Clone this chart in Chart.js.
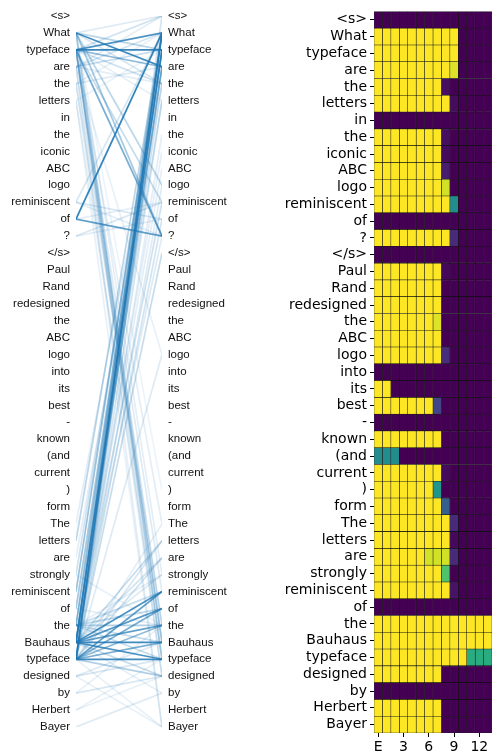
<!DOCTYPE html>
<html>
<head>
<meta charset="utf-8">
<script src="https://cdn.jsdelivr.net/npm/chart.js@4.4.1/dist/chart.umd.min.js"></script>
<style>
  body { margin:0; background:#fff; width:492px; height:753px; overflow:hidden; position:relative; }
  canvas { position:absolute; top:0; }
  #links { left:0; }
  #heat { left:240px; }
</style>
</head>
<body>
<canvas id="links" width="240" height="753"></canvas>
<canvas id="heat" width="252" height="753"></canvas>
<script>
// tokens shown on both sides of the attention plot and on the heatmap rows
const tokens = ['<s>','What','typeface','are','the','letters','in','the','iconic','ABC','logo','reminiscent','of','?','</s>',
  'Paul','Rand','redesigned','the','ABC','logo','into','its','best','-','known','(and','current',')','form',
  'The','letters','are','strongly','reminiscent','of','the','Bauhaus','typeface','designed','by','Herbert','Bayer'];

// layer columns of the heatmap (E = embeddings)
const layers = ['E','1','2','3','4','5','6','7','8','9','10','11','12','13'];
const layerTicks = ['E','3','6','9','12'];

// heat values per token row, one value per layer column
const heat = [
  [0,0,0,0,0,0,0,0,0,0,0,0,0,0],
  [1,1,1,1,1,1,1,1,1,1,0,0,0,0],
  [1,1,1,1,1,1,1,1,1,1,0,0,0,0],
  [1,1,1,1,1,1,1,1,1,0.95,0,0,0,0],
  [1,1,1,1,1,1,1,1,0.04,0,0,0,0,0],
  [1,1,1,1,1,1,1,1,1,0.03,0,0,0,0],
  [0,0,0,0,0,0,0,0,0,0,0,0,0,0],
  [1,1,1,1,1,1,1,1,0.04,0,0,0,0,0],
  [1,1,1,1,1,1,1,1,0.03,0,0,0,0,0],
  [1,1,1,1,1,1,1,1,0.08,0,0,0,0,0],
  [1,1,1,1,1,1,1,1,0.93,0,0,0,0,0],
  [1,1,1,1,1,1,1,1,1,0.48,0,0,0,0],
  [0,0,0,0,0,0,0,0,0,0,0,0,0,0],
  [1,1,1,1,1,1,1,1,1,0.12,0,0,0,0],
  [0,0,0,0,0,0,0,0,0,0,0,0,0,0],
  [1,1,1,1,1,1,1,1,0.02,0,0,0,0,0],
  [1,1,1,1,1,1,1,1,0,0,0,0,0,0],
  [1,1,1,1,1,1,1,1,0,0,0,0,0,0],
  [1,1,1,1,1,1,1,0.95,0,0,0,0,0,0],
  [1,1,1,1,1,1,1,1,0,0,0,0,0,0],
  [1,1,1,1,1,1,1,1,0.13,0,0,0,0,0],
  [0,0,0,0,0,0,0,0,0,0,0,0,0,0],
  [1,1,0,0,0,0,0,0,0,0,0,0,0,0],
  [1,1,1,1,1,1,1,0.2,0,0,0,0,0,0],
  [0,0,0,0,0,0,0,0,0,0,0,0,0,0],
  [1,1,1,1,1,1,1,1,0,0,0,0,0,0],
  [0.48,0.48,0.48,0,0,0,0,0,0,0,0,0,0,0],
  [1,1,1,1,1,1,1,1,0.03,0,0,0,0,0],
  [1,1,1,1,1,1,1,0.52,0,0,0,0,0,0],
  [1,1,1,1,1,1,1,1,0.3,0,0,0,0,0],
  [1,1,1,1,1,1,1,1,1,0.12,0,0,0,0],
  [1,1,1,1,1,1,1,1,1,0.02,0,0,0,0],
  [1,1,1,1,1,1,0.93,0.93,0.93,0.12,0,0,0,0],
  [1,1,1,1,1,1,1,1,0.72,0,0,0,0,0],
  [1,1,1,1,1,1,1,1,1,0.05,0,0,0,0],
  [0,0,0,0,0,0,0,0,0,0,0,0,0,0],
  [1,1,1,1,1,1,1,1,1,1,1,1,1,1],
  [1,1,1,1,1,1,1,1,1,1,1,1,1,1],
  [1,1,1,1,1,1,1,1,1,1,1,0.62,0.62,0.62],
  [1,1,1,1,1,1,1,1,0,0,0,0,0,0],
  [0,0,0,0,0,0,0,0,0,0,0,0,0,0],
  [1,1,1,1,1,1,1,1,0,0,0,0,0,0],
  [1,1,1,1,1,1,1,1,0,0,0,0,0,0]
];

// attention links: left token index -> right token index, with weight
const linkFrom = [1,2,3, 1,1,1,1,1, 2,2,2,2,2,2,2, 3,3,3,4,4,5, 11,11,11, 12,12,12, 13,13,
  1,1,1,2,2,2,2,2,3,4,5,2,1,3,4,5,3,
  38,37,37,38,38,37,36,36,37,38,37,34,35,31,33,38,37,38,37,38,37,38,36,35,30,32,38,37,36,
  37,37,37,37,37,38,38,38,38,38,38,36,36,36,37,38,38,37,36,37,38,37,38,37,36,36,
  39,39,40,40,41,42,39,41,35,33];
const linkTo = [0,0,0, 3,2,10,13,4, 2,1,3,4,13,11,5, 1,2,4,3,1,2, 1,12,13, 1,13,11, 11,12,
  33,37,38,36,37,38,34,39,42,39,42,30,28,37,36,38,20,
  1,2,1,2,3,3,1,2,4,5,0,1,2,1,2,14,13,12,11,10,8,7,5,3,3,4,20,9,0,
  34,35,36,37,38,34,35,36,37,38,39,36,34,35,31,32,31,32,33,33,30,39,42,40,38,37,
  37,38,39,36,38,40,42,39,36,36];
const linkWeight = [0.15,0.2,0.12, 0.85,0.3,0.3,0.4,0.18, 0.9,0.8,0.5,0.22,0.6,0.25,0.12, 0.2,0.25,0.12,0.15,0.1,0.1, 0.18,0.18,0.12, 0.9,0.7,0.12, 0.18,0.12,
  0.12,0.15,0.2,0.22,0.25,0.22,0.15,0.15,0.12,0.12,0.1,0.12,0.08,0.15,0.12,0.1,0.1,
  0.85,0.8,0.5,0.4,0.4,0.35,0.3,0.22,0.22,0.2,0.12,0.45,0.3,0.3,0.22,0.25,0.15,0.2,0.22,0.15,0.12,0.12,0.15,0.15,0.12,0.12,0.15,0.12,0.08,
  0.8,0.75,0.7,0.85,0.8,0.7,0.6,0.5,0.6,0.85,0.35,0.35,0.25,0.3,0.25,0.22,0.18,0.2,0.12,0.15,0.12,0.25,0.1,0.12,0.25,0.25,
  0.15,0.18,0.18,0.1,0.1,0.15,0.1,0.1,0.12,0.1];

const viridisStops = ['#440154','#482475','#414487','#355f8d','#2a788e','#21918c','#22a884','#44bf70','#7ad151','#bddf26','#fde725'];
function hexRgb(h){ return [parseInt(h.slice(1,3),16), parseInt(h.slice(3,5),16), parseInt(h.slice(5,7),16)]; }
function viridis(v){
  const p = Math.max(0, Math.min(1, v)) * (viridisStops.length - 1);
  const i = Math.min(Math.floor(p), viridisStops.length - 2);
  const t = p - i;
  const a = hexRgb(viridisStops[i]), b = hexRgb(viridisStops[i+1]);
  return 'rgb(' + a.map((c,k) => Math.round(c + (b[k]-c)*t)).join(',') + ')';
}

// ---- left: attention lines ----
const linkSets = linkFrom.map((f, i) => ({
  data: [{x:0, y:f}, {x:1, y:linkTo[i]}],
  borderColor: 'rgba(31,119,180,' + linkWeight[i] + ')',
  borderWidth: 1.7,
  pointRadius: 0,
  order: Math.round((1 - linkWeight[i]) * 100)
}));

const tokenFont = { family: 'Liberation Sans', size: 11.5 };
function tokenAxis(pos, w){
  return {
    type: 'linear', position: pos, min: 0, max: 42, reverse: true,
    grid: { display: false, drawTicks: false }, border: { display: false },
    afterBuildTicks: s => { s.ticks = tokens.map((t, i) => ({ value: i })); },
    afterFit: s => { s.width = w; },
    ticks: { autoSkip: false, padding: 6, color: '#111', font: tokenFont,
      callback: v => tokens[v] }
  };
}

new Chart(document.getElementById('links'), {
  type: 'line',
  data: { datasets: linkSets },
  options: {
    responsive: false, animation: false,
    layout: { padding: { top: 16, bottom: 26, left: 0, right: 0 } },
    plugins: { legend: { display: false }, tooltip: { enabled: false } },
    scales: {
      x: { type: 'linear', min: 0, max: 1, display: false },
      y: tokenAxis('left', 76),
      y2: tokenAxis('right', 78)
    }
  }
});

// ---- right: heatmap ----
const heatSets = layers.map((name, c) => ({
  label: name,
  data: tokens.map(() => [c, c + 1]),
  backgroundColor: heat.map(row => viridis(row[c])),
  borderColor: 'rgba(0,0,0,0.85)',
  borderWidth: 0.6,
  borderSkipped: false,
  grouped: false,
  barPercentage: 1,
  categoryPercentage: 1
}));

const heatFont = { family: 'DejaVu Sans', size: 14 };
new Chart(document.getElementById('heat'), {
  type: 'bar',
  data: { labels: tokens, datasets: heatSets },
  options: {
    indexAxis: 'y', responsive: false, animation: false,
    layout: { padding: { top: 9, bottom: 0, left: 0, right: 0 } },
    plugins: { legend: { display: false }, tooltip: { enabled: false } },
    scales: {
      y: {
        type: 'category', offset: true,
        grid: { offset: false, drawOnChartArea: false, tickLength: 4, color: '#000' },
        border: { display: false },
        afterFit: s => { s.width = 134; },
        ticks: { autoSkip: false, padding: 3, color: '#000', font: heatFont }
      },
      x: {
        type: 'linear', min: 0, max: 14,
        grid: { drawOnChartArea: false, tickLength: 4, color: '#000' },
        border: { display: false },
        afterBuildTicks: s => { s.ticks = layerTicks.map(t => ({ value: layers.indexOf(t) + 0.5 })); },
        afterFit: s => { s.height = 20; },
        ticks: { autoSkip: false, maxRotation: 0, padding: 2, color: '#000', font: heatFont,
          callback: v => layers[Math.floor(v)] }
      }
    }
  }
});
</script>
</body>
</html>
